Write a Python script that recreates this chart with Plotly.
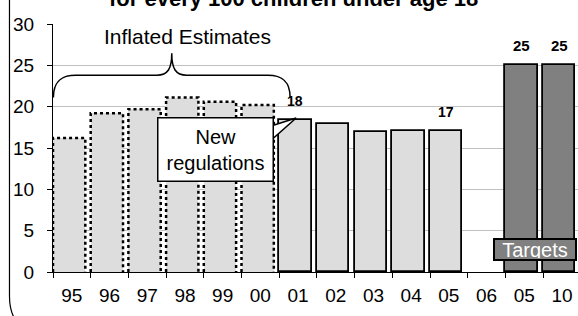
import plotly.graph_objects as go

# ---- data ----
categories = ["95", "96", "97", "98", "99", "00", "01", "02", "03", "04", "05", "06", "05", "10"]
inflated = [16.2, 19.2, 19.7, 21.1, 20.6, 20.2, None, None, None, None, None, None, None, None]
actual = [None, None, None, None, None, None, 18.4, 17.9, 16.9, 17.0, 17.0, None, None, None]
targets = [None] * 12 + [25, 25]
value_labels = ["", "", "", "", "", "", "18", "", "", "", "17", "", "25", "25"]
y_ticks = [0, 5, 10, 15, 20, 25, 30]

FONT = "Liberation Sans, Arial, sans-serif"
idx = list(range(len(categories)))
BW = 0.857       # bar width in category units
OFF = -0.5       # bars start at the category boundary

fig = go.Figure()

# inflated estimates: grey fill, dotted outline drawn separately
fig.add_trace(go.Bar(x=idx, y=inflated, width=BW, offset=OFF,
                     marker=dict(color="#dddddd", line=dict(width=0)),
                     showlegend=False, hoverinfo="skip"))
ox, oy = [], []
for i, v in zip(idx, inflated):
    if v is None:
        continue
    x0 = i + OFF
    x1 = x0 + BW
    ox += [x0, x0, x1, x1, None]
    oy += [0, v, v, 0, None]
fig.add_trace(go.Scatter(x=ox, y=oy, mode="lines",
                         line=dict(color="black", width=2.5, dash="3px,3px"),
                         showlegend=False, hoverinfo="skip", cliponaxis=False))

fig.add_trace(go.Bar(x=idx, y=actual, width=BW, offset=OFF,
                     marker=dict(color="#dddddd", line=dict(color="black", width=1.8)),
                     showlegend=False, hoverinfo="skip"))
fig.add_trace(go.Bar(x=idx, y=targets, width=BW, offset=OFF,
                     marker=dict(color="#808080", line=dict(color="black", width=1.8)),
                     showlegend=False, hoverinfo="skip"))

annotations = []
# value labels above bars
series_all = [a if a is not None else (b if b is not None else c)
              for a, b, c in zip(inflated, actual, targets)]
for i, lab, v in zip(idx, value_labels, series_all):
    if lab and v is not None:
        annotations.append(dict(x=i + OFF + BW / 2, y=v, xref="x", yref="y", text="<b>" + lab + "</b>",
                                showarrow=False, yanchor="bottom", yshift=9,
                                font=dict(family=FONT, size=15 if v >= 25 else 14, color="black")))

# title (mostly cut off at the top, as in the original)
annotations.append(dict(x=0.458, y=1.101, xref="paper", yref="paper",
                        text="<b>for every 100 children under age 18</b>", showarrow=False,
                        xanchor="center", yanchor="middle",
                        font=dict(family=FONT, size=22, color="black")))
# Inflated Estimates label
annotations.append(dict(x=3.07, y=28.5, xref="x", yref="y", text="Inflated Estimates",
                        showarrow=False, xanchor="center", yanchor="middle",
                        font=dict(family=FONT, size=21, color="black")))
# New regulations callout
annotations.append(dict(x=3.81, y=14.82, xref="x", yref="y", text="New<br>regulations",
                        showarrow=False, xanchor="center", yanchor="middle",
                        width=110, height=58, bgcolor="white", bordercolor="black",
                        borderwidth=1.5, borderpad=2,
                        font=dict(family=FONT, size=20, color="black")))
# Targets box
annotations.append(dict(x=12.28, y=2.71, xref="x", yref="y", text="Targets",
                        showarrow=False, xanchor="center", yanchor="middle",
                        width=78, height=17, bgcolor="#808080", bordercolor="black",
                        borderwidth=2, borderpad=1,
                        font=dict(family=FONT, size=20, color="white")))

shapes = [
    # curly brace over the inflated estimates
    dict(type="path", xref="x", yref="y",
         path="M -0.49,21.1 C -0.49,23.2 -0.25,23.8 0.1,23.8 L 2.25,23.8 "
              "C 2.55,23.8 2.65,24.6 2.65,26.45 C 2.65,24.6 2.75,23.8 3.05,23.8 "
              "L 5.2,23.8 C 5.55,23.8 5.79,23.2 5.79,21.1",
         line=dict(color="black", width=1.5)),
    # callout wedge
    dict(type="path", xref="x", yref="y",
         path="M 5.2,17.54 L 5.95,18.63 L 5.2,15.6 Z",
         fillcolor="white", line=dict(color="black", width=1.5)),
    # chart frame (rounded corner at lower left)
    dict(type="path", xref="paper", yref="paper",
         path="M -0.0829,1.2 L -0.0829,-0.097 Q -0.0829,-0.19 -0.055,-0.23",
         line=dict(color="black", width=1.2)),
]

fig.update_layout(
    width=578, height=316,
    margin=dict(l=53, r=0, t=24, b=44, autoexpand=False),
    paper_bgcolor="white", plot_bgcolor="white",
    barmode="overlay", bargap=0,
    showlegend=False, hovermode=False,
    annotations=annotations, shapes=shapes,
    font=dict(family=FONT, size=19, color="black"),
)
fig.update_xaxes(range=[-0.5, -0.5 + 525 / 37.7], tickmode="array", tickvals=idx, ticktext=categories,
                 ticks="", showgrid=False, zeroline=False, showline=True, linecolor="black", linewidth=1,
                 tickfont=dict(family=FONT, size=19, color="black"), ticklabelstandoff=6,
                 automargin=False,
                 minor=dict(tickmode="array", tickvals=[i - 0.5 for i in range(len(categories) + 1)],
                            ticks="outside", ticklen=5, tickcolor="black", showgrid=False))
fig.update_yaxes(range=[0, 30], tickmode="array", tickvals=y_ticks, ticks="outside", ticklen=5,
                 tickcolor="black", showline=True, linecolor="black", linewidth=1,
                 showgrid=True, gridcolor="#c0c0c0", gridwidth=1, zeroline=False,
                 automargin=False,
                 tickfont=dict(family=FONT, size=19, color="black"), ticklabelstandoff=9)

fig.write_html("out.html", config={"displayModeBar": False},
               post_script="document.body.style.margin='0';document.body.style.overflow='hidden';")
